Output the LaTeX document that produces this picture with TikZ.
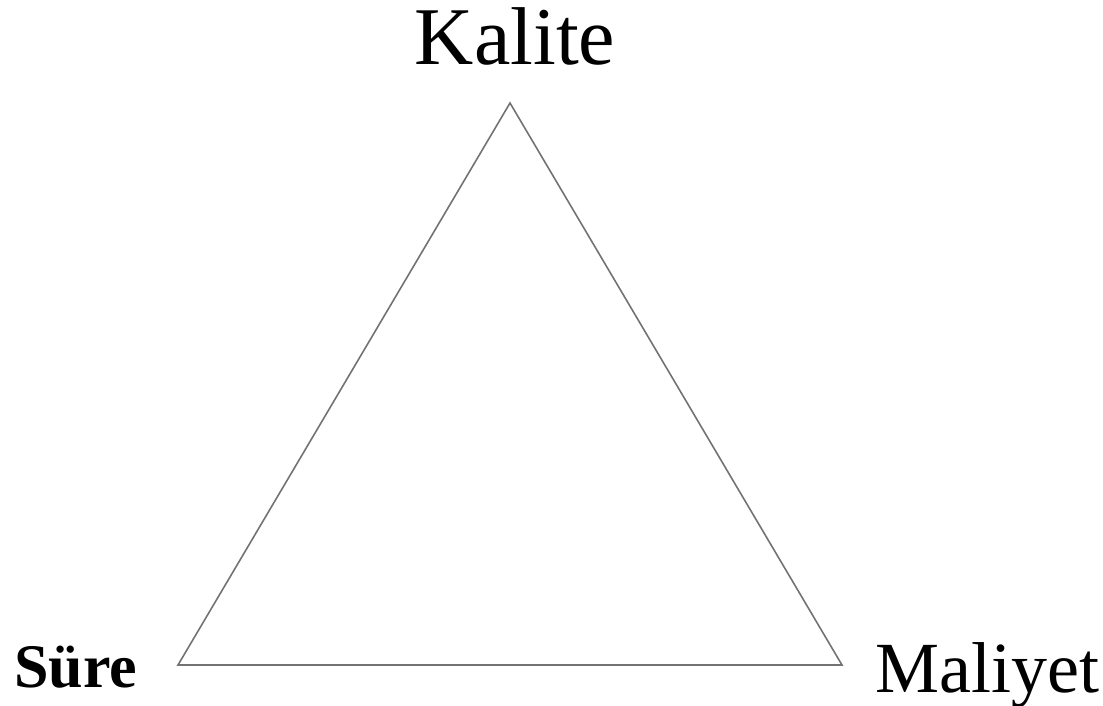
\documentclass[tikz,border=0pt]{standalone}
\usepackage{fontspec}
\setmainfont{Liberation Serif}

\begin{document}
\begin{tikzpicture}[x=0.5pt, y=-0.5pt, every node/.style={inner sep=0pt}, side/.style={draw=black!55, line width=0.8pt, line join=miter}]
\useasboundingbox (0,0) rectangle (1103,706);
\coordinate (top) at (510,103);
\coordinate (bl) at (178,665);
\coordinate (br) at (842,665);
\draw[side] (top) -- (bl) -- (br) -- cycle;
\node[anchor=base, font=\fontsize{41}{45}\selectfont] (kalite) at (515,65) {Kalite};
\node[anchor=base west, font=\fontsize{31}{35}\selectfont\bfseries] (sure) at (14,687) {Süre};
\node[anchor=base west, font=\fontsize{36}{40}\selectfont] (maliyet) at (875,692) {Maliyet};
\end{tikzpicture}
\end{document}
